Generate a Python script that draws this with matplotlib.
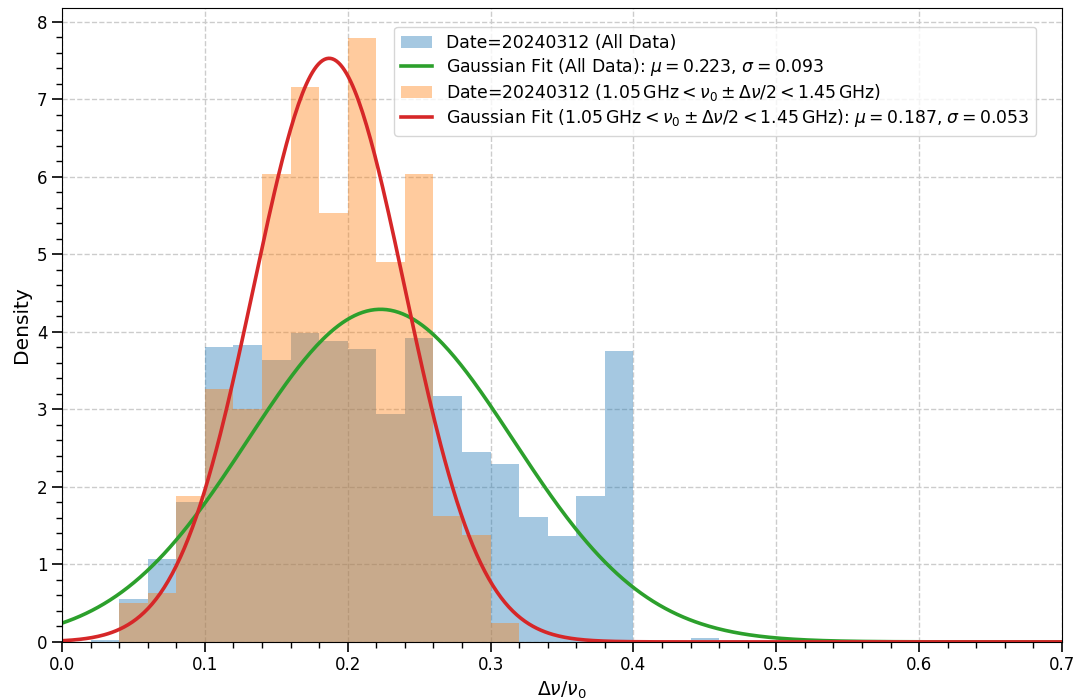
import matplotlib.pyplot as plt
import numpy as np
from matplotlib.ticker import MultipleLocator

# bin edges (width 0.02) and densities
edges_all = np.round(np.arange(0.02, 0.4801, 0.02), 2)
dens_all = [0.02, 0.55, 1.07, 1.80, 3.81, 3.83, 3.63, 3.99, 3.88, 3.78, 2.94, 3.92,
            3.17, 2.45, 2.29, 1.61, 1.37, 1.885, 3.75, 0.0, 0.0, 0.055, 0.03]

edges_sel = np.round(np.arange(0.04, 0.3201, 0.02), 2)
dens_sel = [0.50, 0.63, 1.88, 3.26, 3.01, 6.03, 7.16, 5.53, 7.79, 4.90, 6.03,
            1.63, 1.38, 0.24]

mu_all, sigma_all = 0.223, 0.093
mu_sel, sigma_sel = 0.187, 0.053

lab_all = 'Date=20240312 (All Data)'
lab_sel = r'Date=20240312 ($1.05\,\mathrm{GHz} < \nu_0 \pm \Delta\nu/2 < 1.45\,\mathrm{GHz}$)'
lab_fit_all = r'Gaussian Fit (All Data): $\mu = 0.223$, $\sigma = 0.093$'
lab_fit_sel = r'Gaussian Fit ($1.05\,\mathrm{GHz} < \nu_0 \pm \Delta\nu/2 < 1.45\,\mathrm{GHz}$): $\mu = 0.187$, $\sigma = 0.053$'


def gauss(x, mu, sigma):
    return np.exp(-0.5 * ((x - mu) / sigma) ** 2) / (sigma * np.sqrt(2 * np.pi))


fig = plt.figure(figsize=(10.76, 7), dpi=100)
ax = fig.add_axes([0.0576, 0.083, 0.9294, 0.906])

h1 = ax.hist(edges_all[:-1], bins=edges_all, weights=dens_all, color='#1f77b4', alpha=0.4)[2]
h2 = ax.hist(edges_sel[:-1], bins=edges_sel, weights=dens_sel, color='#ff7f0e', alpha=0.4)[2]

x = np.linspace(0, 0.7, 500)
l1, = ax.plot(x, gauss(x, mu_all, sigma_all), color='#2ca02c', lw=2.6)
l2, = ax.plot(x, gauss(x, mu_sel, sigma_sel), color='#d62728', lw=2.6)

ax.set_xlim(0, 0.7)
ax.set_ylim(0, 8.18)
ax.xaxis.set_major_locator(MultipleLocator(0.1))
ax.xaxis.set_minor_locator(MultipleLocator(0.02))
ax.yaxis.set_major_locator(MultipleLocator(1))
ax.yaxis.set_minor_locator(MultipleLocator(0.2))
ax.tick_params(which='major', direction='out', length=7, width=1.2, labelsize=12)
ax.tick_params(which='minor', direction='out', length=4, width=1)
ax.grid(True, which='major', linestyle='--', color='#cccccc', lw=1)
ax.set_axisbelow(True)

ax.set_xlabel(r'$\Delta\nu/\nu_0$', fontsize=13.5)
ax.set_ylabel('Density', fontsize=14.5)

ax.legend(handles=[h1[0], l1, h2[0], l2],
          labels=[lab_all, lab_fit_all, lab_sel, lab_fit_sel],
          loc='upper right', bbox_to_anchor=(0.974, 0.970), borderaxespad=0,
          fontsize=12.4, labelspacing=0.24, handlelength=1.8)

fig.savefig('out.png', dpi=100)
